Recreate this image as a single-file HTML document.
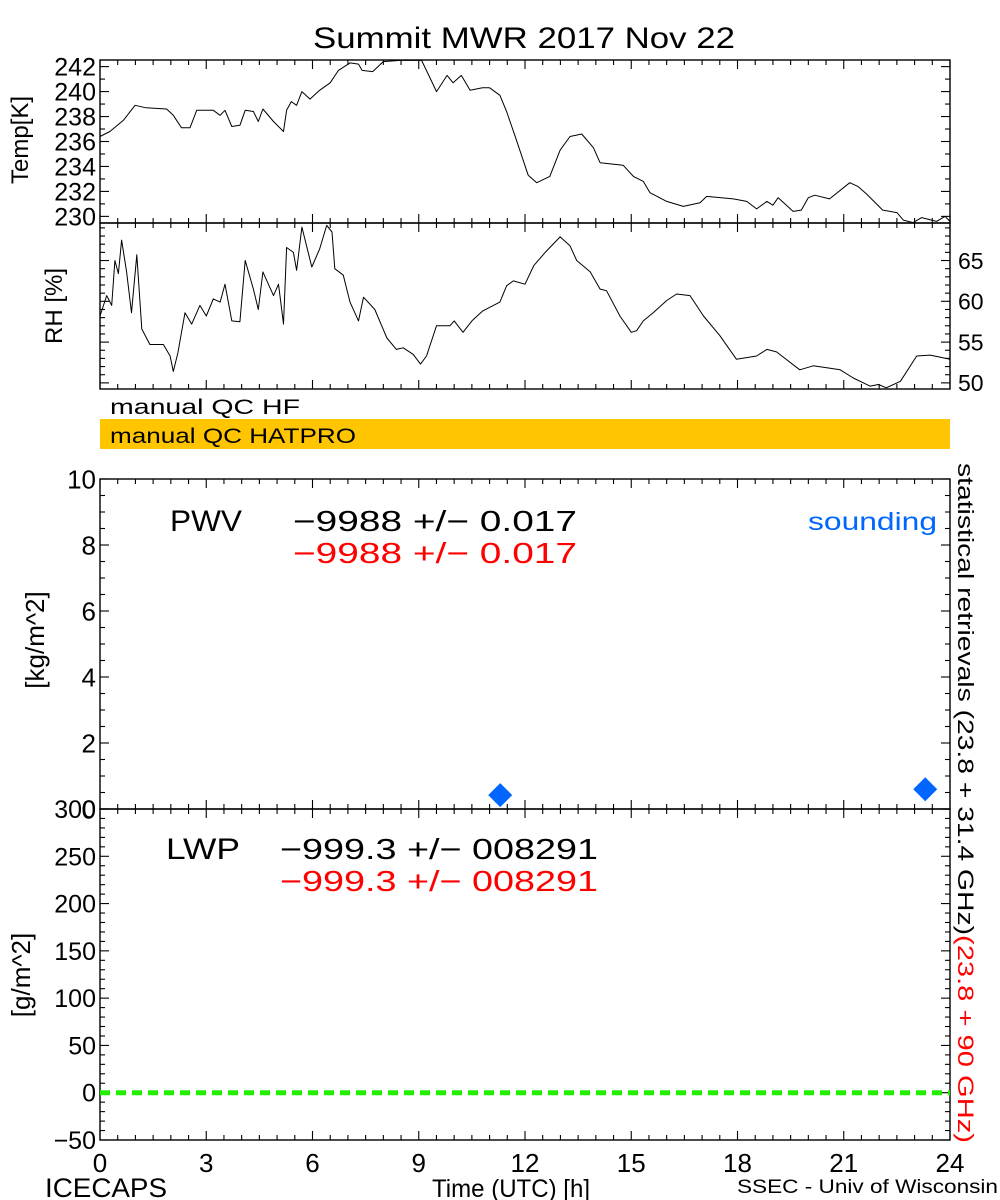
<!DOCTYPE html>
<html><head><meta charset="utf-8"><style>
body{margin:0;background:#fff}
svg{display:block;font-family:"Liberation Sans",sans-serif}
</style></head><body>
<svg id="c" width="1000" height="1200" viewBox="0 0 1000 1200" xmlns="http://www.w3.org/2000/svg">
<rect width="1000" height="1200" fill="#fff"/>
<text x="313" y="48" font-size="30" textLength="422" lengthAdjust="spacingAndGlyphs">Summit MWR 2017 Nov 22</text>
<text x="110" y="414" font-size="21" textLength="190" lengthAdjust="spacingAndGlyphs">manual QC HF</text>
<rect x="100" y="419" width="850" height="30" fill="#ffc500"/>
<text x="110" y="443" font-size="21" textLength="246" lengthAdjust="spacingAndGlyphs">manual QC HATPRO</text>
<text transform="translate(28,140) rotate(-90)" font-size="24" text-anchor="middle">Temp[K]</text>
<text transform="translate(62,306) rotate(-90)" font-size="24" text-anchor="middle">RH [%]</text>
<text transform="translate(44,640) rotate(-90)" font-size="26" text-anchor="middle">[kg/m^2]</text>
<text transform="translate(30,975) rotate(-90)" font-size="26" text-anchor="middle">[g/m^2]</text>
<text x="170" y="531" font-size="30" textLength="72" lengthAdjust="spacingAndGlyphs">PWV</text>
<text x="293" y="531" font-size="29" textLength="284" lengthAdjust="spacingAndGlyphs">−9988 +/− 0.017</text>
<text x="293" y="563" font-size="29" fill="#ff0000" textLength="284" lengthAdjust="spacingAndGlyphs">−9988 +/− 0.017</text>
<text x="808" y="530" font-size="25" fill="#0066ff" textLength="129" lengthAdjust="spacingAndGlyphs">sounding</text>
<text x="166" y="859" font-size="30" textLength="74" lengthAdjust="spacingAndGlyphs">LWP</text>
<text x="280" y="859" font-size="29" textLength="318" lengthAdjust="spacingAndGlyphs">−999.3 +/− 008291</text>
<text x="280" y="891" font-size="29" fill="#ff0000" textLength="318" lengthAdjust="spacingAndGlyphs">−999.3 +/− 008291</text>
<text transform="translate(958,463) rotate(90)" font-size="22" textLength="472" lengthAdjust="spacingAndGlyphs">statistical retrievals (23.8 + 31.4 GHz)</text>
<text transform="translate(958,935) rotate(90)" font-size="22" fill="#ff0000" textLength="208" lengthAdjust="spacingAndGlyphs">(23.8 + 90 GHz)</text>
<text x="432" y="1197" font-size="25" textLength="158" lengthAdjust="spacingAndGlyphs">Time (UTC) [h]</text>
<text x="45" y="1197" font-size="27" textLength="122" lengthAdjust="spacingAndGlyphs">ICECAPS</text>
<text x="737" y="1193" font-size="19" textLength="261" lengthAdjust="spacingAndGlyphs">SSEC - Univ of Wisconsin</text>
<g id="g"></g>
</svg>
<script>
const tempHours=[0,0.28,0.66,0.99,1.3,1.88,2.07,2.3,2.54,2.73,3.2,3.39,3.53,3.72,3.95,4.1,4.33,4.47,4.6,4.9,5.18,5.27,5.4,5.55,5.7,5.93,6.2,6.5,6.73,7.06,7.3,7.4,7.7,8.0,8.47,9.08,9.3,9.5,9.8,9.97,10.2,10.45,10.8,11.0,11.29,11.48,11.76,12.09,12.33,12.7,12.99,13.27,13.6,13.93,14.12,14.77,15.06,15.34,15.53,16.0,16.47,16.94,17.13,17.88,18.26,18.54,18.83,19.0,19.15,19.57,19.8,20.0,20.18,20.6,21.17,21.4,21.64,22.1,22.5,22.68,22.96,23.2,23.62,23.86,24];
const tempValues=[236.4,236.8,237.7,238.9,238.7,238.6,238.1,237.1,237.1,238.5,238.5,238.1,238.5,237.2,237.3,238.5,238.4,237.6,238.6,237.6,236.8,238.5,239.2,238.9,240.0,239.4,240.1,240.7,241.7,242.3,242.2,241.7,241.6,242.4,242.5,242.5,241.2,240.0,241.3,240.7,241.3,240.1,240.3,240.3,239.7,238.4,236.1,233.3,232.7,233.2,235.3,236.4,236.6,235.5,234.3,234.1,233.2,232.8,231.9,231.2,230.8,231.1,231.6,231.4,231.2,230.6,231.2,230.9,231.5,230.4,230.5,231.5,231.7,231.4,232.7,232.4,231.8,230.5,230.3,229.7,229.5,229.9,229.6,230.0,229.6];
const rhHours=[0,0.19,0.33,0.42,0.52,0.61,0.75,0.89,1.04,1.18,1.41,1.79,1.98,2.07,2.2,2.4,2.59,2.82,3.0,3.2,3.39,3.53,3.72,3.95,4.1,4.33,4.47,4.6,4.9,5.04,5.18,5.27,5.46,5.55,5.7,5.98,6.2,6.4,6.55,6.63,6.87,7.06,7.3,7.44,7.76,8.1,8.37,8.56,8.84,9.05,9.22,9.5,9.88,10.0,10.25,10.5,10.8,11.29,11.48,11.67,12.0,12.25,12.57,12.99,13.27,13.46,13.84,14.12,14.3,14.68,15.0,15.15,15.34,15.62,16.0,16.28,16.66,17.04,17.5,17.97,18.54,18.83,19.1,19.76,20.14,20.9,21.27,21.74,21.98,22.2,22.6,23.06,23.44,24];
const rhValues=[58.2,60.7,59.5,65.0,63.4,67.5,63.6,58.6,65.7,56.6,54.7,54.7,53.3,51.4,53.7,58.6,57.2,59.5,58.2,60.3,59.9,62.1,57.6,57.5,65.0,61.5,59.0,63.6,60.7,62.1,57.2,66.6,66.0,63.8,69.1,64.2,66.4,69.3,68.5,64.0,63.2,59.9,57.6,60.5,59.0,55.5,54.1,54.3,53.5,52.3,53.3,57.0,57.0,57.6,56.2,57.6,58.8,59.9,61.9,62.5,62.1,64.4,66.0,67.9,66.8,65.0,63.6,61.5,61.3,58.2,56.2,56.4,57.6,58.6,60.1,60.9,60.7,58.2,55.8,52.9,53.3,54.1,53.8,51.6,52.1,51.6,50.6,49.6,49.8,49.4,50.2,53.3,53.4,52.9];
const soundingHours=[11.3,23.3];
const soundingPwv=[0.42,0.6];
const lwpHours=[0,24];
const lwpValues=[0,0];
const xTickLabels=["0","3","6","9","12","15","18","21","24"];
const tempTickLabels=["230","232","234","236","238","240","242"];
const rhTickLabels=["50","55","60","65"];
const pwvTickLabels=["0","2","4","6","8","10"];
const lwpTickLabels=["-50","0","50","100","150","200","250","300"];

const NS="http://www.w3.org/2000/svg";
const G=document.getElementById('g');
const X0=100,X1=950;
const xs=h=>X0+(X1-X0)*h/24;
function yScale(top,bot,vmin,vmax){return v=>bot-(bot-top)*(v-vmin)/(vmax-vmin);}
const P={temp:{top:60,bot:223,min:229.47,max:242.53},rh:{top:223,bot:389,min:49.25,max:69.6},pwv:{top:479,bot:809,min:0,max:10},lwp:{top:809,bot:1140,min:-50,max:300}};
for(const k in P){P[k].y=yScale(P[k].top,P[k].bot,P[k].min,P[k].max);}
function mk(tag,attrs){const e=document.createElementNS(NS,tag);for(const a in attrs)e.setAttribute(a,attrs[a]);G.appendChild(e);return e;}
function line(x1,y1,x2,y2,w){return mk('line',{x1,y1,x2,y2,stroke:'#000','stroke-width':w||1.2});}
for(const k in P){const p=P[k];
 const r=mk('rect',{x:X0,y:p.top,width:X1-X0,height:p.bot-p.top,fill:'none',stroke:'#000','stroke-width':1.4});
 
 
 for(let i=0;i<=48;i++){const h=i*0.5,x=xs(h),L=(i%6===0)?9:5;
  line(x,p.top,x,p.top+L,1.1);line(x,p.bot,x,p.bot-L,1.1);}
}
function yTicks(p,minorStep,majorStep,leftLabels,labels,fs){
 const start=Math.ceil(p.min/minorStep)*minorStep;
 for(let v=start;v<=p.max+1e-6;v+=minorStep){const y=p.y(v);
  const maj=Math.abs(v/majorStep-Math.round(v/majorStep))<1e-6;const L=maj?9:5;
  line(X0,y,X0+L,y,1.1);line(X1,y,X1-L,y,1.1);}
 labels.forEach(t=>{const v=parseFloat(t),y=p.y(v);
  const tx=mk('text',{x:leftLabels?X0-4:X1+8,y:y+fs*0.36,'font-size':fs,'text-anchor':leftLabels?'end':'start'});
  tx.textContent=t.replace('-','−');
  
  });
}
yTicks(P.temp,1,2,true,tempTickLabels,25);
yTicks(P.rh,1,5,false,rhTickLabels,23);
yTicks(P.pwv,0.5,2,true,pwvTickLabels,26);
yTicks(P.lwp,10,50,true,lwpTickLabels,25);
xTickLabels.forEach(t=>{const tx=mk('text',{x:xs(parseFloat(t)),y:1172,'font-size':26,'text-anchor':'middle'});tx.textContent=t;
 
 });
function series(hs,vs,p,name){const pts=hs.map((h,i)=>xs(h).toFixed(1)+','+p.y(vs[i]).toFixed(1)).join(' ');
 const pl=mk('polyline',{points:pts,fill:'none',stroke:'#000','stroke-width':1,'stroke-linejoin':'round'});
 
 }
series(tempHours,tempValues,P.temp,'temperature-line');
series(rhHours,rhValues,P.rh,'rh-line');
soundingHours.forEach((h,i)=>{const x=xs(h),y=P.pwv.y(soundingPwv[i]),s=12;
 const d=mk('polygon',{points:`${x},${y-s} ${x+s},${y} ${x},${y+s} ${x-s},${y}`,fill:'#0066ff'});
 
 });
const gl=mk('line',{x1:xs(lwpHours[0]),y1:P.lwp.y(lwpValues[0]),x2:xs(lwpHours[1]),y2:P.lwp.y(lwpValues[1]),stroke:'#22ee00','stroke-width':5,'stroke-dasharray':'10 6'});


</script>
</body></html>
